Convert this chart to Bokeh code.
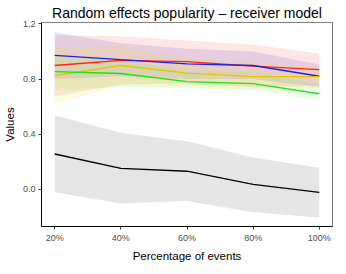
from bokeh.plotting import figure
from bokeh.models import FixedTicker, Range1d
from bokeh.embed import file_html
from bokeh.resources import INLINE

pct = [20, 40, 60, 80, 100]
x_labels = ["20%", "40%", "60%", "80%", "100%"]
y_ticks = [0.0, 0.4, 0.8, 1.2]
y_labels = ["0.0", "0.4", "0.8", "1.2"]

black_mean = [0.256, 0.152, 0.131, 0.035, -0.023]
black_lo = [-0.021, -0.104, -0.085, -0.166, -0.205]
black_hi = [0.536, 0.41, 0.348, 0.23, 0.156]

blue_mean = [0.972, 0.94, 0.91, 0.898, 0.82]
blue_lo = [0.80, 0.82, 0.80, 0.80, 0.74]
blue_hi = [1.14, 1.06, 1.02, 1.0, 0.905]

red_mean = [0.898, 0.935, 0.926, 0.894, 0.868]
red_lo = [0.675, 0.76, 0.77, 0.74, 0.75]
red_hi = [1.12, 1.11, 1.08, 1.05, 0.986]

yellow_mean = [0.825, 0.898, 0.843, 0.818, 0.818]
yellow_lo = [0.617, 0.75, 0.74, 0.72, 0.74]
yellow_hi = [1.03, 1.04, 0.95, 0.92, 0.89]

green_mean = [0.854, 0.84, 0.781, 0.767, 0.693]
green_lo = [0.72, 0.74, 0.733, 0.72, 0.64]
green_hi = [0.98, 0.94, 0.86, 0.85, 0.76]

FONT = "Liberation Sans"

p = figure(width=338, height=264, output_backend="svg", toolbar_location=None,
           x_range=Range1d(16, 104), y_range=Range1d(-0.27, 1.21),
           title="Random effects popularity \u2013 receiver model")
p.min_border_left = 4
p.min_border_right = 6
p.min_border_top = 0
p.min_border_bottom = 0

p.title.align = "center"
p.title.text_font = FONT
p.title.text_font_style = "normal"
p.title.text_font_size = "14px"
p.title.text_color = "#000000"
p.title.standoff = 4

series = [
    (black_mean, black_lo, black_hi, "#000000", "#000000", 0.1),
    (red_mean, red_lo, red_hi, "#FF2020", "#FF0000", 0.1),
    (blue_mean, blue_lo, blue_hi, "#2020E0", "#4020C0", 0.12),
    (yellow_mean, yellow_lo, yellow_hi, "#E0C800", "#F0E000", 0.12),
    (green_mean, green_lo, green_hi, "#20E020", "#40FF20", 0.1),
]
for m, lo, hi, lc, fc, a in series:
    p.varea(x=pct, y1=lo, y2=hi, fill_color=fc, fill_alpha=a)
for m, lo, hi, lc, fc, a in series:
    p.line(x=pct, y=m, line_color=lc, line_width=1.3)

p.xgrid.visible = False
p.ygrid.visible = False
p.outline_line_color = "#808080"
p.outline_line_width = 1

for ax in (p.xaxis, p.yaxis):
    ax.axis_line_color = "#000000"
    ax.axis_line_width = 1
    ax.major_tick_line_color = "#333333"
    ax.major_tick_out = 3
    ax.major_tick_in = 0
    ax.minor_tick_line_color = None
    ax.major_label_text_font = FONT
    ax.major_label_text_font_size = "9px"
    ax.major_label_text_color = "#4D4D4D"
    ax.axis_label_text_font = FONT
    ax.axis_label_text_font_size = "11.5px"
    ax.axis_label_text_font_style = "normal"
    ax.axis_label_text_color = "#000000"
    ax.major_label_standoff = 3
    ax.axis_label_standoff = 4

p.xaxis.ticker = FixedTicker(ticks=pct)
p.xaxis.major_label_overrides = {v: l for v, l in zip(pct, x_labels)}
p.yaxis.ticker = FixedTicker(ticks=y_ticks)
p.yaxis.major_label_overrides = {v: l for v, l in zip(y_ticks, y_labels)}
p.xaxis.axis_label = "Percentage of events"
p.yaxis.axis_label = "Values"

open("out.html", "w").write(file_html(p, INLINE))
